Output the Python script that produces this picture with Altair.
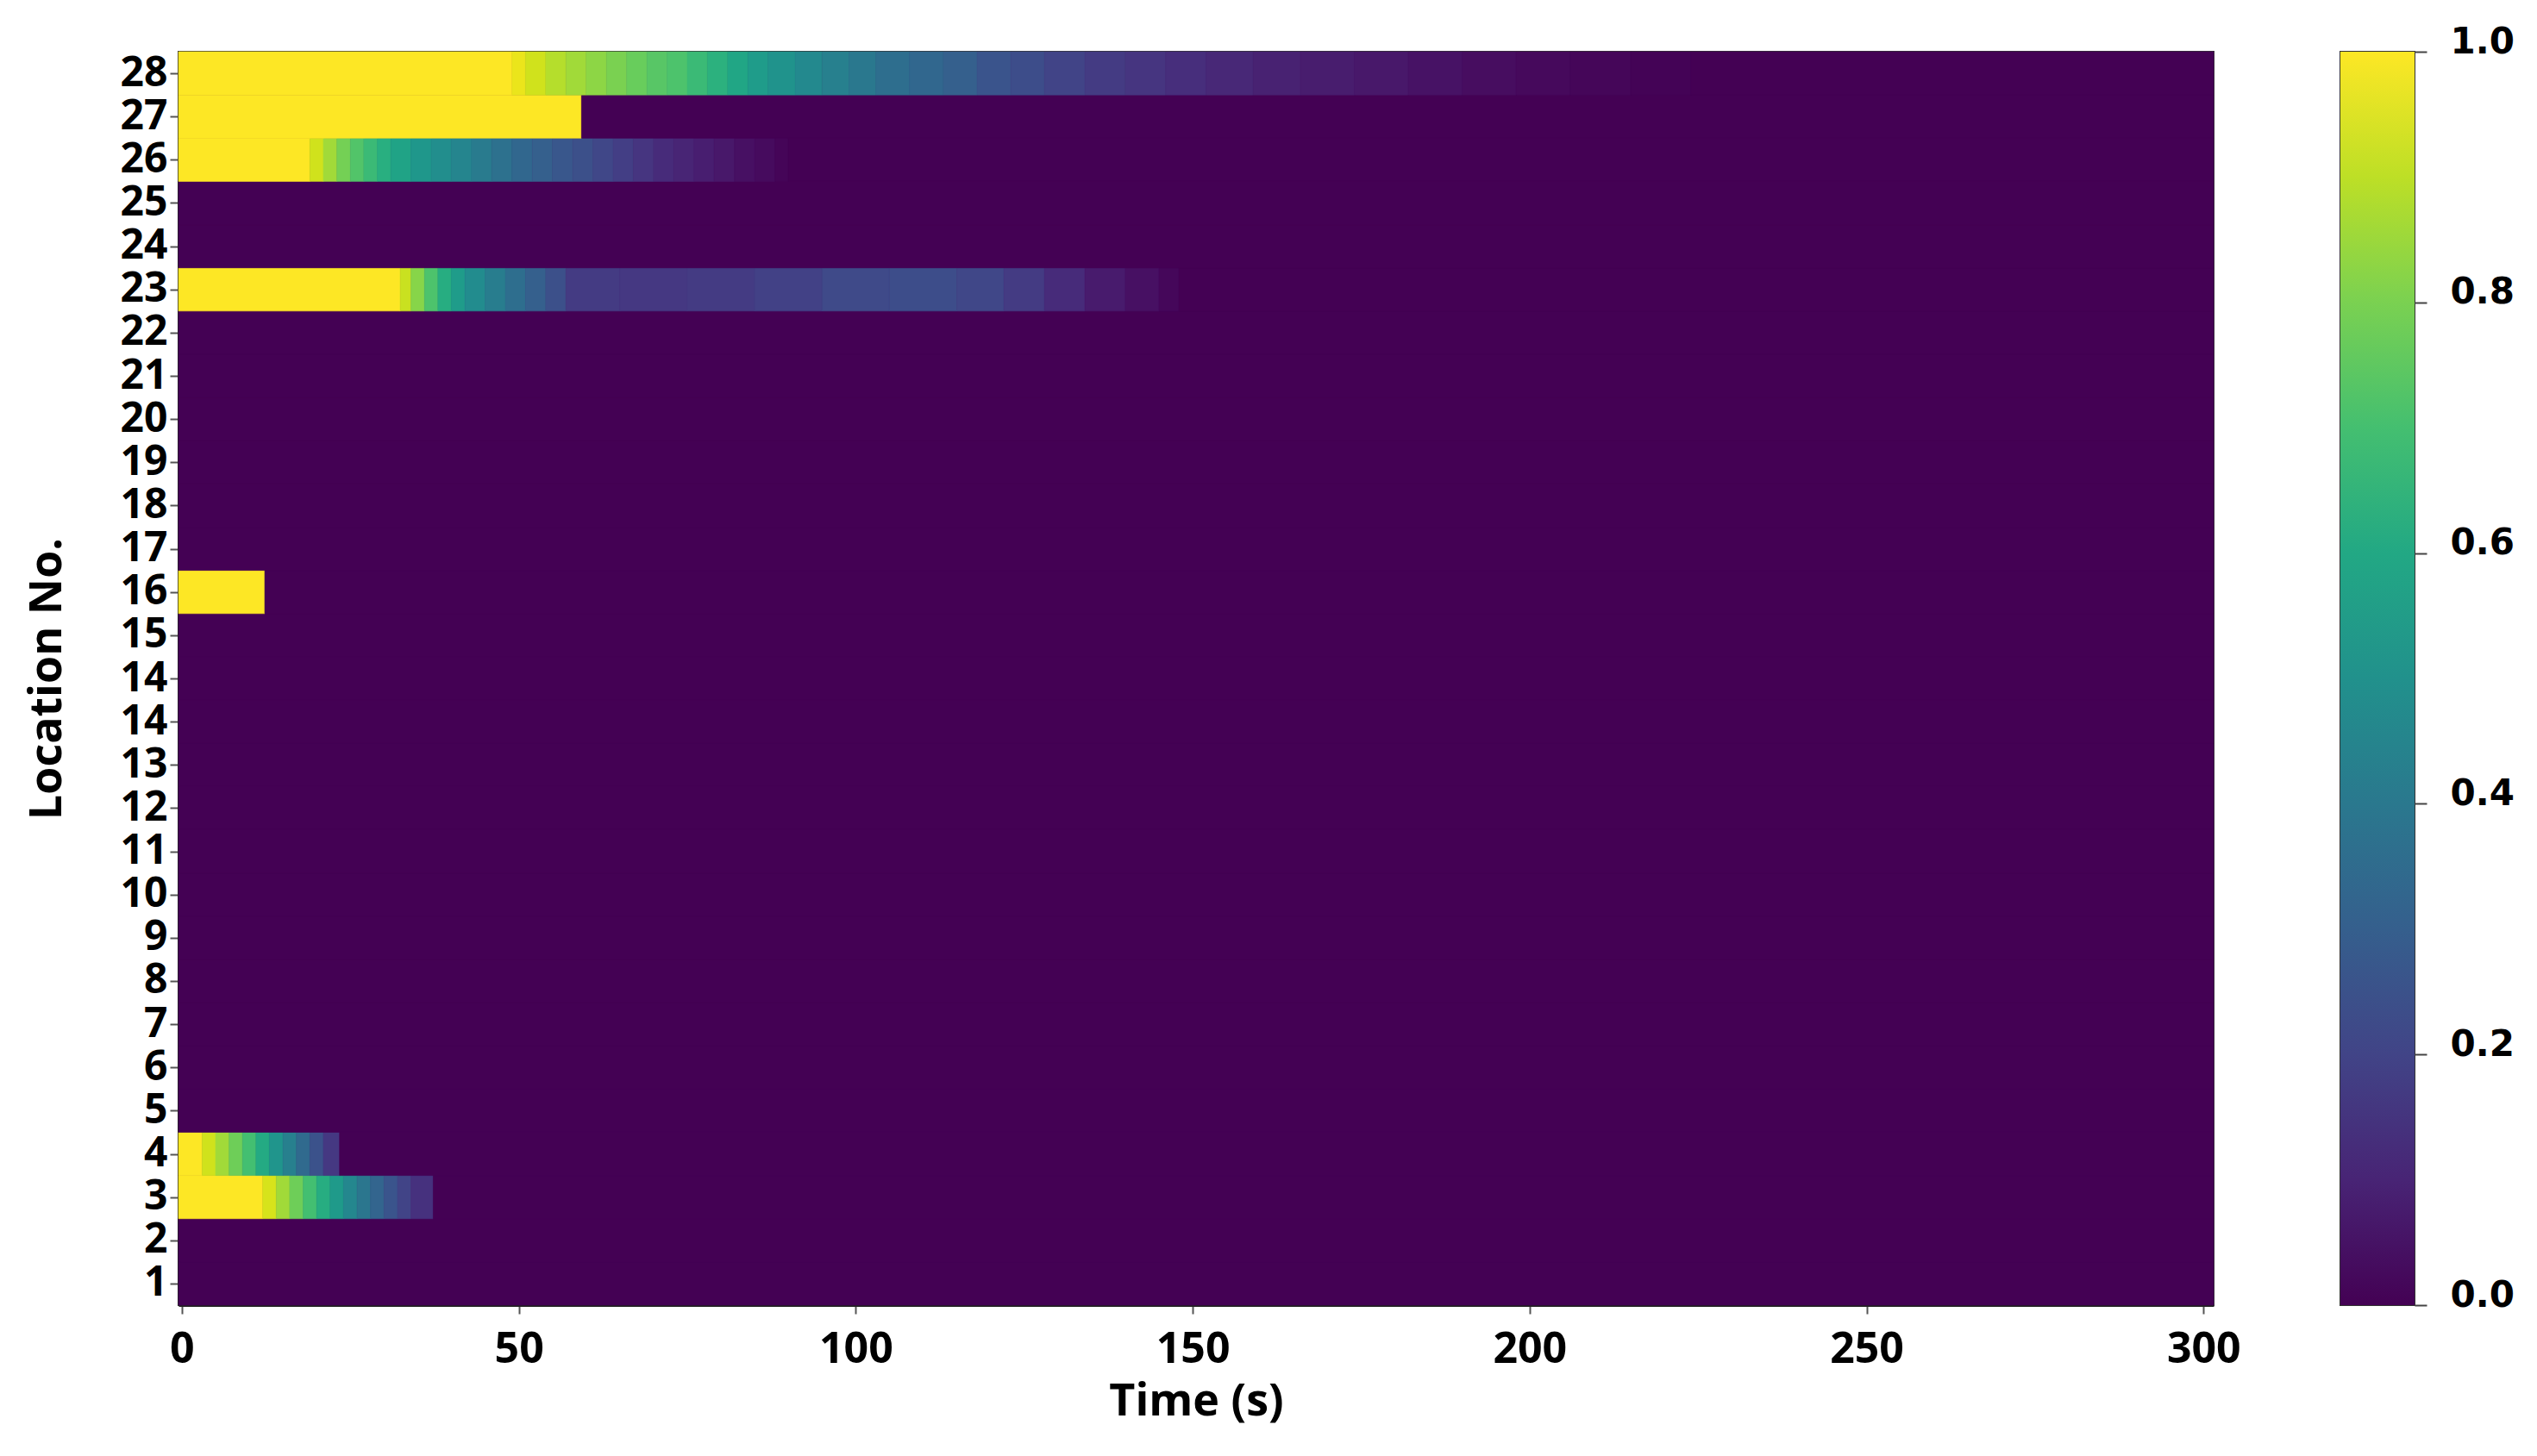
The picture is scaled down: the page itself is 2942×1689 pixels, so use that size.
import altair as alt
import pandas as pd

# ---------------- data ----------------
# y rows, bottom to top (note the repeated "14" label in the original)
LOCATION_LABELS = ["1", "2", "3", "4", "5", "6", "7", "8", "9", "10", "11", "12", "13",
                   "14", "14", "15", "16", "17", "18", "19", "20", "21", "22", "23",
                   "24", "25", "26", "27", "28"]
TIME_TICKS = [0, 50, 100, 150, 200, 250, 300]
COLORBAR_TICKS = [0.0, 0.2, 0.4, 0.6, 0.8, 1.0]
T_START = -0.5
T_END = 301.5

# piecewise-constant segments per active row: edges (s) and normalized values
ROW28_EDGES = [-0.5, 49, 51, 54, 57, 60, 63, 66, 69, 72, 75, 78, 81, 84, 87, 91, 95, 99,
               103, 108, 113, 118, 123, 128, 134, 140, 146, 152, 159, 166, 174, 182, 190,
               198, 206, 215, 224]
ROW28_VALS = [1.0, 0.97, 0.93, 0.89, 0.86, 0.83, 0.80, 0.77, 0.74, 0.72, 0.68, 0.64, 0.59,
              0.55, 0.51, 0.47, 0.43, 0.40, 0.36, 0.33, 0.30, 0.26, 0.23, 0.20, 0.17, 0.15,
              0.13, 0.11, 0.09, 0.075, 0.06, 0.045, 0.03, 0.02, 0.012, 0.005]

ROW27_EDGES = [-0.5, 59.3]
ROW27_VALS = [1.0]

ROW26_EDGES = [-0.5, 19, 21, 23, 25, 27, 29, 31, 34, 37, 40, 43, 46, 49, 52, 55, 58, 61, 64,
               67, 70, 73, 76, 79, 82, 85, 88, 90]
ROW26_VALS = [1.0, 0.93, 0.86, 0.79, 0.73, 0.68, 0.63, 0.58, 0.53, 0.49, 0.45, 0.41, 0.37,
              0.33, 0.30, 0.27, 0.24, 0.21, 0.18, 0.15, 0.12, 0.10, 0.08, 0.06, 0.04, 0.025,
              0.01]

ROW23_EDGES = [-0.5, 32.4, 34, 36, 38, 40, 42, 45, 48, 51, 54, 57, 65, 75, 85, 95, 105, 115,
               122, 128, 134, 140, 145, 148]
ROW23_VALS = [1.0, 0.92, 0.82, 0.72, 0.62, 0.55, 0.48, 0.42, 0.36, 0.30, 0.24, 0.17, 0.16,
              0.17, 0.19, 0.22, 0.23, 0.21, 0.17, 0.12, 0.07, 0.04, 0.015]

ROW16_EDGES = [-0.5, 12.3]
ROW16_VALS = [1.0]

ROW4_EDGES = [-0.5, 3, 5, 7, 9, 11, 13, 15, 17, 19, 21, 23.4]
ROW4_VALS = [1.0, 0.93, 0.86, 0.78, 0.70, 0.61, 0.52, 0.43, 0.34, 0.25, 0.16]

ROW3_EDGES = [-0.5, 12, 14, 16, 18, 20, 22, 24, 26, 28, 30, 32, 34, 37.3]
ROW3_VALS = [1.0, 0.94, 0.86, 0.78, 0.70, 0.62, 0.54, 0.46, 0.39, 0.32, 0.26, 0.20, 0.14]

# row position index (0 = bottom) -> segments
ACTIVE_ROWS = {
    28: (ROW28_EDGES, ROW28_VALS),
    27: (ROW27_EDGES, ROW27_VALS),
    26: (ROW26_EDGES, ROW26_VALS),
    23: (ROW23_EDGES, ROW23_VALS),
    16: (ROW16_EDGES, ROW16_VALS),
    3: (ROW4_EDGES, ROW4_VALS),
    2: (ROW3_EDGES, ROW3_VALS),
}

# viridis palette stops used for the colour bar
VIRIDIS_STOPS = ["#440154", "#482475", "#414487", "#355f8d", "#2a788e", "#21918c",
                 "#22a884", "#44bf70", "#7ad151", "#bddf26", "#fde725"]

records = []
for idx in range(len(LOCATION_LABELS)):
    if idx in ACTIVE_ROWS:
        edges, vals = ACTIVE_ROWS[idx]
        for i, v in enumerate(vals):
            records.append({"row": idx - 0.5, "row2": idx + 0.5,
                            "t0": edges[i], "t1": edges[i + 1], "v": v})
        records.append({"row": idx - 0.5, "row2": idx + 0.5,
                        "t0": edges[-1], "t1": T_END, "v": 0.0})
    else:
        records.append({"row": idx - 0.5, "row2": idx + 0.5,
                        "t0": T_START, "t1": T_END, "v": 0.0})

df = pd.DataFrame(records)

label_expr = "[" + ",".join("'" + s + "'" for s in LOCATION_LABELS) + "][datum.value]"

AXIS_FONT = "Open Sans"

color_scale = alt.Scale(scheme="viridis", domain=[0, 1])

heat = alt.Chart(df).mark_rect(strokeWidth=0.6).encode(
    x=alt.X("t0:Q",
            scale=alt.Scale(domain=[T_START, T_END], nice=False, zero=False),
            axis=alt.Axis(values=TIME_TICKS, title="Time (s)", format="d",
                          labelFlush=False, tickSize=10, tickWidth=2,
                          labelPadding=16, titlePadding=10)),
    x2="t1:Q",
    y=alt.Y("row:Q",
            scale=alt.Scale(domain=[-0.5, len(LOCATION_LABELS) - 0.5], nice=False, zero=False),
            axis=alt.Axis(values=list(range(len(LOCATION_LABELS))), labelExpr=label_expr,
                          title="Location No.", labelOverlap=False, tickSize=10,
                          tickWidth=2, labelPadding=3, titlePadding=58,
                          labelFontSize=48)),
    y2="row2:Q",
    color=alt.Color("v:Q", scale=color_scale, legend=None),
    stroke=alt.Stroke("v:Q", scale=color_scale, legend=None),
).properties(width=2360, height=1454)

# colour bar drawn as a gradient-filled rect on a 0..1 scale
cbar_df = pd.DataFrame({"lo": [0.0], "hi": [1.0]})
gradient = alt.Gradient(
    gradient="linear",
    stops=[alt.GradientStop(color=c, offset=i / (len(VIRIDIS_STOPS) - 1))
           for i, c in enumerate(VIRIDIS_STOPS)],
    x1=0, x2=0, y1=1, y2=0,
)
cbar = alt.Chart(cbar_df).mark_rect(color=gradient).encode(
    x=alt.value(0),
    x2=alt.value(86),
    y=alt.Y("lo:Q", scale=alt.Scale(domain=[0, 1], nice=False, zero=False),
            axis=alt.Axis(orient="right", values=COLORBAR_TICKS, format=".1f", title=None,
                          labelFont="DejaVu Sans", labelFontWeight="bold",
                          labelFontSize=42, labelColor="#000", tickSize=14, tickWidth=2,
                          tickColor="#444", labelPadding=27, labelOffset=-12,
                          labelFlush=False, labelOverlap=False, domain=False)),
    y2="hi:Q",
).properties(width=86, height=1454)

chart = alt.hconcat(heat, cbar, spacing=147, bounds="flush").properties(
    padding={"left": 19, "top": 18, "right": 5, "bottom": 5},
).configure_view(
    stroke="#333", strokeWidth=2, fill="#440154"
).configure_axis(
    labelFont=AXIS_FONT, labelFontWeight="bold", labelFontSize=50, labelColor="#000",
    titleFont=AXIS_FONT, titleFontWeight="bold", titleFontSize=52, titleColor="#000",
    domainColor="#222", domainWidth=3, tickColor="#555", grid=False
)

chart.save("out.html", embed_options={"renderer": "svg", "actions": False})
